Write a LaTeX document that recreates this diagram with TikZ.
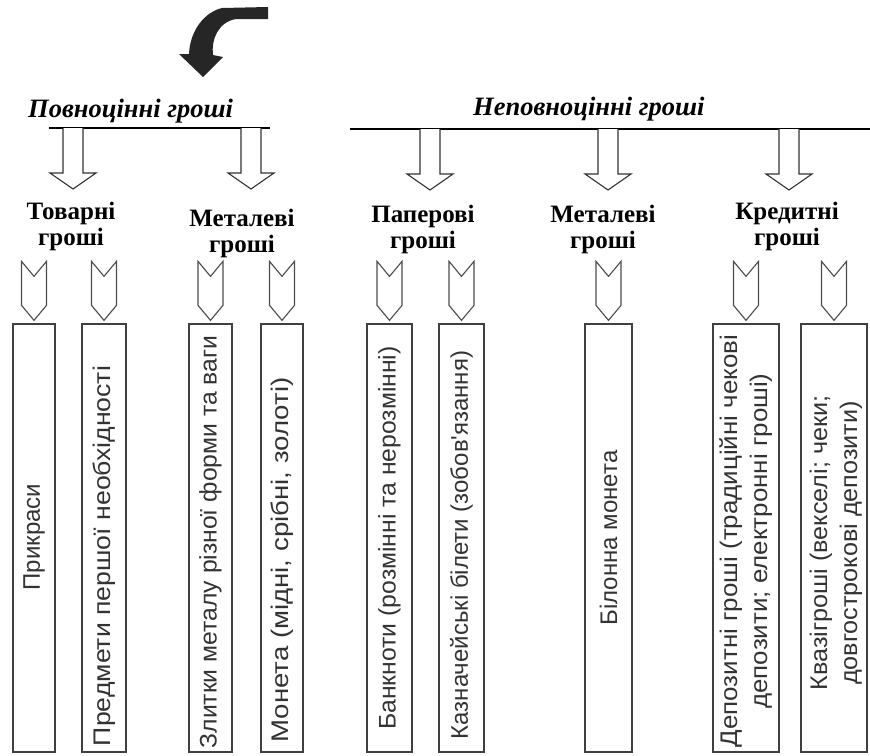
\documentclass[tikz,border=0pt]{standalone}
\usepackage{fontspec}
\setmainfont{Liberation Serif}
\newfontfamily\boxfont{Liberation Sans}
\usetikzlibrary{calc}
\newcommand{\twolines}[3]{\scalebox{#1}[1]{\begin{tabular}{@{}c@{}}#2\\#3\end{tabular}}}
\begin{document}
\begin{tikzpicture}[x=1pt,y=-1pt,
  title/.style={font=\fontsize{26.5}{30}\selectfont\bfseries\itshape, anchor=base west, inner sep=0pt},
  sub/.style={font=\fontsize{25}{26}\selectfont\bfseries, align=center, anchor=base, inner sep=0pt},
  leaf/.style={draw=black!75, line width=1.3pt, fill=white, inner sep=0pt, minimum width=#1, minimum height=428pt},
  lbl/.style={font=\boxfont\fontsize{24}{30}\selectfont, text=black!80, rotate=90, align=center, inner sep=0pt},
  hollow/.style={draw=black!80, line width=1.1pt, fill=white, line join=miter},
  chev/.style={draw=black!70, line width=1.1pt, fill=white, line join=miter},
  headline/.style={draw=black, line width=2pt},
  harrow/.pic={\draw[hollow] (-10,0) -- (-10,45) -- (-23,45) -- (0,61) -- (23,45) -- (10,45) -- (10,0);},
  chevron/.pic={\draw[chev] (-12.5,0) -- (0,15) -- (12.5,0) -- (12.5,44) -- (0,59) -- (-12.5,44) -- cycle;}
]
\useasboundingbox (0,0) rectangle (870,755);

% curved top arrow
\fill[black!85] (268,7) -- (222,8) .. controls (205,12) and (190,30) .. (189,54)
  -- (179,54) -- (203,77) -- (223,57) -- (213,55)
  .. controls (211,40) and (218,22) .. (236,19) -- (268,19) -- cycle;

% titles
\node[title] (full) at (28,117) {Повноцінні гроші};
\node[title] (part) at (473,115) {Неповноцінні гроші};

% header lines
\coordinate (la) at (49,128);
\coordinate (lb) at (270,128);
\coordinate (ra) at (350,129);
\coordinate (rb) at (870,129);
\draw[headline] (la) -- (lb);
\draw[headline] (ra) -- (rb);

% hollow arrows
\pic at (73,128) {harrow};
\pic at (251,128) {harrow};
\pic at (430,129) {harrow};
\pic at (608,129) {harrow};
\pic at (789,129) {harrow};

% sub headings (anchor = baseline of last line)
\node[sub] (s1) at (71,245) {Товарні\\гроші};
\node[sub] (s2) at (242,252) {Металеві\\гроші};
\node[sub] (s3) at (423,248) {Паперові\\гроші};
\node[sub] (s4) at (603,248) {Металеві\\гроші};
\node[sub] (s5) at (787,245) {Кредитні\\гроші};

% boxes
\node[leaf=42pt] (b1) at (34,538) {};
\node[leaf=44pt] (b2) at (104,538) {};
\node[leaf=43pt] (b3) at (210.5,538) {};
\node[leaf=42pt] (b4) at (282,538) {};
\node[leaf=45pt] (b5) at (389.5,538) {};
\node[leaf=45pt] (b6) at (461.5,538) {};
\node[leaf=47pt] (b7) at (608.5,538) {};
\node[leaf=66pt] (b8) at (746,538) {};
\node[leaf=66pt] (b9) at (834,538) {};

% chevrons
\foreach \b in {b1,b2,b3,b4,b5,b6,b7,b8,b9}
  \pic at ($(\b.north)+(0,-62)$) {chevron};

% texts
\node[lbl] (l1) at (34,537) {Прикраси};
\node[lbl] (l2) at (104,556) {\scalebox{1.11}[1]{Предмети першої необхідності}};
\node[lbl] (l3) at (210.5,542) {\scalebox{1.03}[1]{Злитки металу різної форми та ваги}};
\node[lbl] (l4) at (282,560) {\scalebox{1.15}[1]{Монета (мідні, срібні, золоті)}};
\node[lbl] (l5) at (389.5,538) {\scalebox{1.03}[1]{Банкноти (розмінні та нерозмінні)}};
\node[lbl] (l6) at (461.5,545) {Казначейські білети (зобов'язання)};
\node[lbl] (l7) at (608.5,538) {Білонна монета};
\node[lbl] (l8) at (746,541) {\twolines{1.08}{Депозитні гроші (традиційні чекові}{депозити; електронні гроші)}};
\node[lbl] (l9) at (836,543) {\twolines{1.05}{Квазігроші (векселі; чеки;}{довгострокові депозити)}};
\end{tikzpicture}
\end{document}
